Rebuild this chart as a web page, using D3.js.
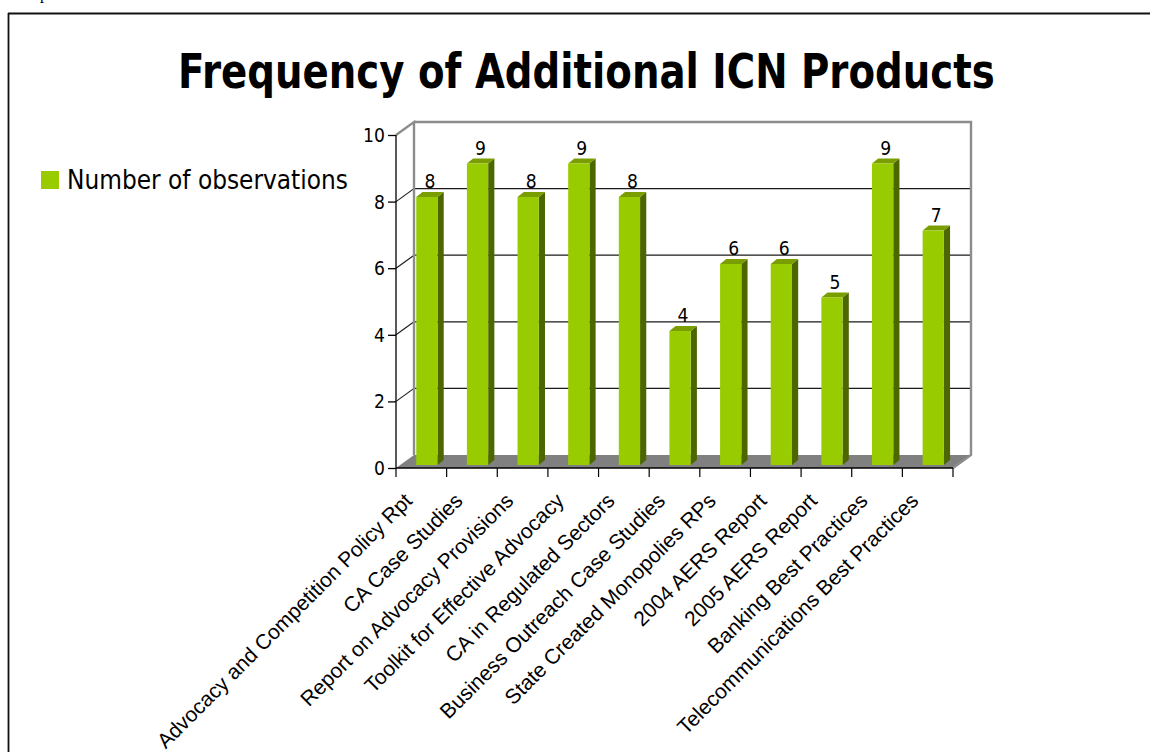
<!DOCTYPE html>
<html>
<head>
<meta charset="utf-8">
<script src="https://cdn.jsdelivr.net/npm/d3@7"></script>
<style>
  html, body { margin: 0; padding: 0; background: #fff; }
  svg { display: block; }
</style>
</head>
<body>
<svg id="chart" width="1150" height="752"></svg>
<script>
const titleText = "Frequency of Additional ICN Products";
const seriesName = "Number of observations";
const categories = [
  "Advocacy and Competition Policy Rpt",
  "CA Case Studies",
  "Report on Advocacy Provisions",
  "Toolkit for Effective Advocacy",
  "CA in Regulated Sectors",
  "Business Outreach Case Studies",
  "State Created Monopolies RPs",
  "2004 AERS Report",
  "2005 AERS Report",
  "Banking Best Practices",
  "Telecommunications Best Practices"
];
const values = [8, 9, 8, 9, 8, 4, 6, 6, 5, 9, 7];
const yTicks = [0, 2, 4, 6, 8, 10];
const gridTicks = [2, 4, 6, 8];

const svg = d3.select("#chart");
const TAHOMA = "'DejaVu Sans', sans-serif";
const ARIAL = "'Liberation Sans', Arial, sans-serif";
const NARROW = 0.86;

// text drawn narrower (Tahoma-like) through a horizontal scale on its group
function scaledText(parent, x, y, opts) {
  const grp = parent.append("g");
  const txt = grp.append("text").attr("x", 0).attr("y", 0)
    .attr("font-family", TAHOMA).attr("font-size", opts.size)
    .attr("font-weight", opts.weight || "normal")
    .attr("text-anchor", opts.anchor || "start")
    .attr("fill", "#000").text(opts.text);
  let sx = opts.sx || NARROW;
  if (opts.width) sx = opts.width / txt.node().getComputedTextLength();
  grp.attr("transform", `translate(${x},${y}) scale(${sx},1)`);
  return grp;
}

// page fragment + frame
svg.append("text").attr("x", 40).attr("y", -1).attr("font-family", "'Liberation Serif', serif")
  .attr("font-size", 16).text("p");
svg.append("line").attr("x1", 8).attr("x2", 1150).attr("y1", 13.5).attr("y2", 13.5)
  .attr("stroke", "#111").attr("stroke-width", 1.8);
svg.append("line").attr("x1", 8.5).attr("x2", 8.5).attr("y1", 13).attr("y2", 752)
  .attr("stroke", "#111").attr("stroke-width", 1.8);

// title
scaledText(svg, 178, 88, { size: 48, weight: "bold", text: titleText, width: 817 });

// legend
svg.append("rect").attr("x", 41).attr("y", 171).attr("width", 18).attr("height", 18).attr("fill", "#99cc00");
scaledText(svg, 67, 189, { size: 26, text: seriesName, width: 281 });

// scales
const x = d3.scaleBand().domain(categories).range([396, 953]).padding(0);
const yF = d3.scaleLinear().domain([0, 10]).range([468, 135]);
const yB = d3.scaleLinear().domain([0, 10]).range([465, 130]);
const DX = 18, DY = -13;
const x0 = x.range()[0], x1 = x.range()[1];

const g = svg.append("g");

// floor
g.append("polygon")
  .attr("points", [[x0, yF(0)], [x0 + DX, yF(0) + DY], [x1 + DX, yF(0) + DY], [x1, yF(0)]].map(p => p.join(",")).join(" "))
  .attr("fill", "#808080");

// gridlines on back wall
g.selectAll(".grid").data(gridTicks).enter().append("line")
  .attr("x1", x0 + DX).attr("x2", x1 + DX)
  .attr("y1", d => yF(d) + DY).attr("y2", d => yF(d) + DY)
  .attr("stroke", "#1a1a1a").attr("stroke-width", 1.2);
// diagonals on side wall
g.selectAll(".diag").data(gridTicks).enter().append("line")
  .attr("x1", x0).attr("x2", x0 + DX)
  .attr("y1", d => yF(d)).attr("y2", d => yF(d) + DY)
  .attr("stroke", "#1a1a1a").attr("stroke-width", 1.1);

// wall borders (grey)
const wallTop = yF(10) + DY, wallBot = yF(0) + DY;
g.append("path")
  .attr("d", `M${x0},${yF(10)} L${x0 + DX},${wallTop} L${x0 + DX},${wallBot} M${x0 + DX},${wallTop} L${x1 + DX},${wallTop} L${x1 + DX},${wallBot} L${x1},${yF(0)}`)
  .attr("fill", "none").attr("stroke", "#8c8c8c").attr("stroke-width", 2.4);

// bars
const bw = x.bandwidth();
const barOff = bw * 0.4, barW = bw * 0.42, bdx = 6.2, bdy = -5;
const rows = categories.map((c, i) => ({ c, v: values[i] }));
const bars = g.selectAll(".bar").data(rows).enter().append("g");
bars.append("polygon") // side
  .attr("points", d => {
    const xr = x(d.c) + barOff + barW;
    return [[xr, yB(d.v)], [xr + bdx, yB(d.v) + bdy], [xr + bdx, yB(0) + bdy], [xr, yB(0)]].map(p => p.join(",")).join(" ");
  })
  .attr("fill", "#4c6600");
bars.append("polygon") // top
  .attr("points", d => {
    const xl = x(d.c) + barOff;
    return [[xl, yB(d.v)], [xl + bdx, yB(d.v) + bdy], [xl + barW + bdx, yB(d.v) + bdy], [xl + barW, yB(d.v)]].map(p => p.join(",")).join(" ");
  })
  .attr("fill", "#7a9e00");
bars.append("rect") // front
  .attr("x", d => x(d.c) + barOff).attr("y", d => yB(d.v))
  .attr("width", barW).attr("height", d => yB(0) - yB(d.v))
  .attr("fill", "#99cc00");

// value labels
rows.forEach(d => {
  scaledText(g, x(d.c) + barOff + barW / 2 + 3, yB(d.v) - 9, { size: 20, text: String(d.v), anchor: "middle" });
});

// y axis
const yAxis = d3.axisLeft(yF).tickValues(yTicks).tickSize(8).tickPadding(3).tickFormat(d3.format("d"));
const ya = svg.append("g").attr("transform", `translate(${x0},0)`).call(yAxis);
ya.select(".domain").attr("stroke", "#000").attr("stroke-width", 1.3).attr("d", `M0,${yF(10)}V${yF(0)}`);
ya.selectAll(".tick line").attr("stroke", "#000").attr("stroke-width", 1.3);
ya.selectAll(".tick text")
  .attr("font-family", TAHOMA).attr("font-size", 20).attr("fill", "#000")
  .attr("x", -11 / NARROW).attr("transform", `scale(${NARROW},1)`);

// floor front edge and category ticks
svg.append("line").attr("x1", x0).attr("x2", x1).attr("y1", yF(0)).attr("y2", yF(0))
  .attr("stroke", "#000").attr("stroke-width", 1.3);
const bounds = categories.map(c => x(c)).concat([x1]);
svg.selectAll(".ctick").data(bounds).enter().append("line")
  .attr("x1", d => d).attr("x2", d => d).attr("y1", yF(0)).attr("y2", yF(0) + 9)
  .attr("stroke", "#000").attr("stroke-width", 1.2);

// category labels
svg.selectAll(".clab").data(categories).enter().append("text")
  .attr("transform", c => `translate(${x(c) + bw / 2 - 8},502) rotate(-45)`)
  .attr("text-anchor", "end")
  .attr("font-family", ARIAL).attr("font-size", 21).attr("fill", "#000")
  .text(c => c);
</script>
</body>
</html>
